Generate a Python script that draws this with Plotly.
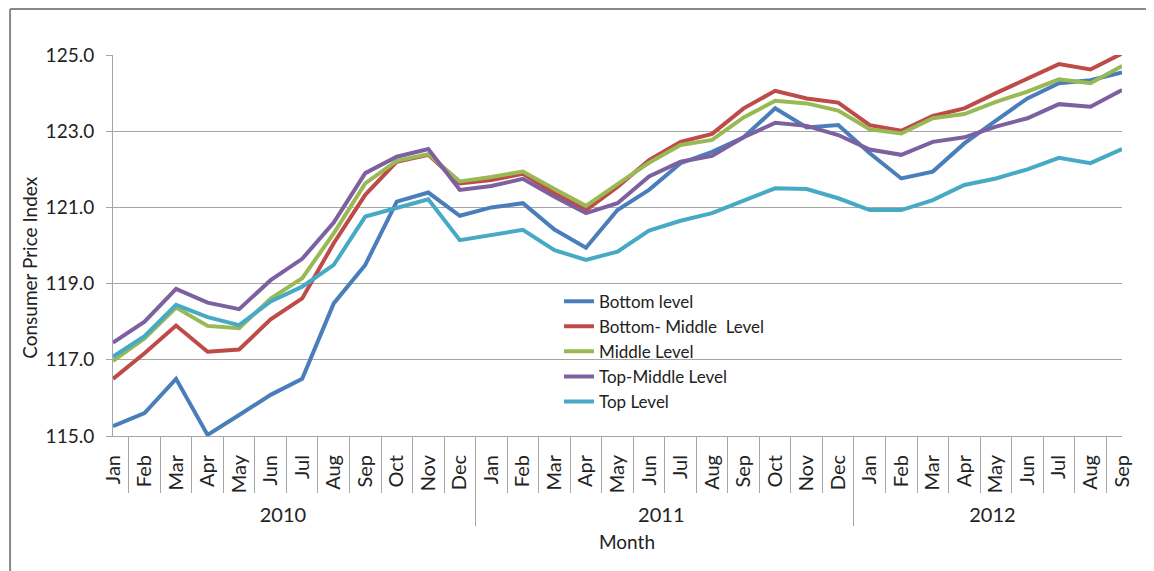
import plotly.graph_objects as go

years = ["2010"] * 12 + ["2011"] * 12 + ["2012"] * 9
months = ["Jan", "Feb", "Mar", "Apr", "May", "Jun", "Jul", "Aug", "Sep", "Oct", "Nov", "Dec"] * 2 + \
         ["Jan", "Feb", "Mar", "Apr", "May", "Jun", "Jul", "Aug", "Sep"]

bottom = [115.26, 115.60, 116.50, 115.03, 115.55, 116.08, 116.50, 118.48, 119.49, 121.15, 121.39, 120.78,
          121.00, 121.11, 120.42, 119.94, 120.93, 121.46, 122.16, 122.46, 122.84, 123.60, 123.10, 123.16,
          122.42, 121.76, 121.94, 122.68, 123.28, 123.86, 124.26, 124.34, 124.54]
bottom_middle = [116.50, 117.17, 117.90, 117.21, 117.27, 118.06, 118.61, 120.06, 121.33, 122.20, 122.38, 121.63,
                 121.72, 121.88, 121.37, 120.93, 121.54, 122.24, 122.72, 122.93, 123.60, 124.06, 123.86, 123.75,
                 123.16, 123.01, 123.40, 123.60, 124.00, 124.39, 124.76, 124.62, 125.04]
middle = [116.97, 117.56, 118.37, 117.89, 117.83, 118.61, 119.14, 120.32, 121.63, 122.22, 122.40, 121.68,
          121.80, 121.94, 121.48, 121.04, 121.61, 122.17, 122.64, 122.77, 123.36, 123.80, 123.73, 123.54,
          123.05, 122.94, 123.34, 123.45, 123.77, 124.04, 124.36, 124.26, 124.71]
top_middle = [117.45, 118.00, 118.86, 118.50, 118.33, 119.09, 119.65, 120.60, 121.90, 122.33, 122.53, 121.46,
              121.56, 121.75, 121.28, 120.85, 121.11, 121.81, 122.20, 122.35, 122.84, 123.22, 123.14, 122.90,
              122.52, 122.38, 122.72, 122.84, 123.12, 123.34, 123.71, 123.64, 124.08]
top = [117.08, 117.62, 118.44, 118.12, 117.91, 118.53, 118.92, 119.49, 120.76, 120.98, 121.21, 120.14,
       120.28, 120.41, 119.88, 119.62, 119.84, 120.39, 120.65, 120.85, 121.18, 121.50, 121.48, 121.24,
       120.93, 120.93, 121.19, 121.59, 121.76, 122.00, 122.30, 122.16, 122.53]

series = [
    ("Bottom level", bottom, "#4A7EBB"),
    ("Bottom- Middle  Level", bottom_middle, "#BE4B48"),
    ("Middle Level", middle, "#98B954"),
    ("Top-Middle Level", top_middle, "#7D60A0"),
    ("Top Level", top, "#46AAC5"),
]

FONT = "Lato, Open Sans, sans-serif"
GRAY = "#A6A6A6"

fig = go.Figure()
for name, vals, color in series:
    fig.add_trace(go.Scatter(x=[years, months], y=vals, name=name, mode="lines",
                             line=dict(color=color, width=4), cliponaxis=True))

fig.update_layout(
    width=1146, height=563,
    margin=dict(l=105, r=32, t=47, b=135, autoexpand=False),
    paper_bgcolor="white", plot_bgcolor="white",
    font=dict(family=FONT, size=19, color="#222"),
    showlegend=True,
    legend=dict(x=0.442, y=0.40, xanchor="left", yanchor="top", bgcolor="rgba(0,0,0,0)",
                font=dict(size=17, family=FONT), tracegroupgap=0, itemwidth=30),
    shapes=[dict(type="line", xref="paper", yref="paper", x0=-0.102, x1=1.05, y0=1.121, y1=1.121,
                 line=dict(color="#888", width=2)),
            dict(type="line", xref="paper", yref="paper", x0=-0.102, x1=-0.102, y0=1.121, y1=-0.4,
                 line=dict(color="#888", width=2))],
    annotations=[
        dict(text="Consumer Price Index", textangle=-90, xref="paper", yref="paper",
             x=-0.0823, y=0.444, xanchor="center", yanchor="middle", showarrow=False,
             font=dict(size=19, family=FONT, color="#222")),
        dict(text="Month", xref="paper", yref="paper", x=0.509, y=-0.277,
             xanchor="center", yanchor="middle", showarrow=False,
             font=dict(size=19, family=FONT, color="#222")),
    ],
)
fig.update_yaxes(range=[115, 125], tick0=115, dtick=2, tickformat=".1f", showgrid=True, gridcolor=GRAY,
                 gridwidth=1, showline=True, linecolor=GRAY, ticks="outside", ticklen=6,
                 tickcolor=GRAY, zeroline=False, automargin=False, ticklabelstandoff=8,
                 tickfont=dict(size=19, family=FONT))
fig.update_xaxes(type="multicategory", tickangle=-90, showdividers=True, dividercolor=GRAY,
                 dividerwidth=1, ticks="outside", tickson="boundaries", ticklen=56, tickcolor=GRAY,
                 tickwidth=1,
                 showline=True, linecolor=GRAY, showgrid=False, automargin=False,
                 ticklabelstandoff=10,
                 tickfont=dict(size=20, family=FONT))

fig.write_html("out.html")
